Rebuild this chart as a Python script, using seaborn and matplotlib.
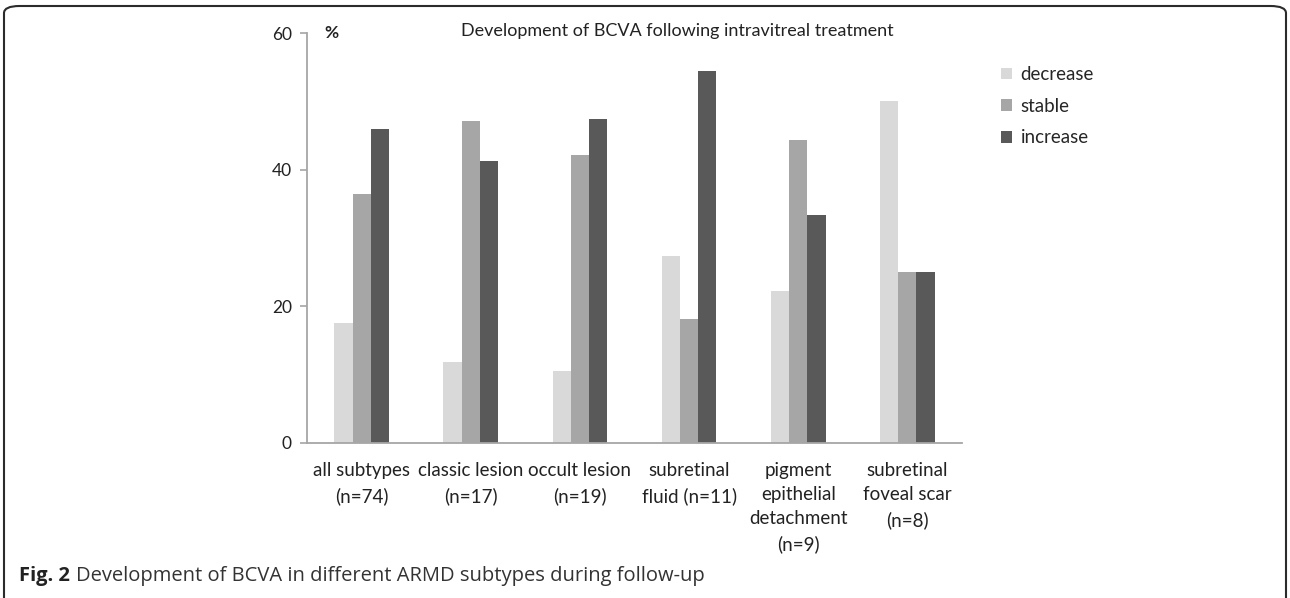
import matplotlib
matplotlib.use("Agg")
import matplotlib.pyplot as plt
from matplotlib.patches import FancyBboxPatch, Patch
import seaborn as sns
import pandas as pd

categories = [
    "all subtypes\n(n=74)",
    "classic lesion\n(n=17)",
    "occult lesion\n(n=19)",
    "subretinal\nfluid (n=11)",
    "pigment\nepithelial\ndetachment\n(n=9)",
    "subretinal\nfoveal scar\n(n=8)",
]
series = ["decrease", "stable", "increase"]
decrease = [17.6, 11.8, 10.5, 27.3, 22.2, 50.0]
stable = [36.5, 47.1, 42.1, 18.2, 44.4, 25.0]
increase = [45.9, 41.2, 47.4, 54.5, 33.3, 25.0]
yticks = [0, 20, 40, 60]

colors = ["#d9d9d9", "#a6a6a6", "#595959"]

sns.set_theme(style="white")
plt.rcParams["font.family"] = ["Lato", "DejaVu Sans"]

rows = []
for cat, d, s, i in zip(categories, decrease, stable, increase):
    rows.append((cat, "decrease", d))
    rows.append((cat, "stable", s))
    rows.append((cat, "increase", i))
df = pd.DataFrame(rows, columns=["subtype", "change", "percent"])

fig = plt.figure(figsize=(12.9, 5.98), dpi=100)
ax = fig.add_axes([0.238, 0.2592, 0.5077, 0.6856])

sns.barplot(data=df, x="subtype", y="percent", hue="change",
            hue_order=series, order=categories, palette=colors,
            width=0.5, saturation=1, ax=ax, legend=False,
            edgecolor="none", linewidth=0)

ax.set_xlim(-0.5, len(categories) - 0.5)
ax.set_ylim(0, 60)
ax.set_yticks(yticks)
ax.set_xlabel("")
ax.set_ylabel("")
for side in ["top", "right"]:
    ax.spines[side].set_visible(False)
for side in ["left", "bottom"]:
    ax.spines[side].set_color("#a6a6a6")
    ax.spines[side].set_linewidth(1.3)
ax.tick_params(axis="y", which="major", left=True, length=5, width=1.2,
               color="#a6a6a6", labelsize=12.5, labelcolor="#222222", pad=6)
ax.tick_params(axis="x", bottom=False, labelsize=13.5, labelcolor="#222222", pad=8)
for lbl in ax.get_xticklabels():
    lbl.set_linespacing(1.5)
    lbl.set_verticalalignment("top")

ax.text(0.037, 1.0, "%", transform=ax.transAxes, fontsize=12.5,
        fontweight="bold", ha="center", va="center", color="#222222")
fig.text(0.525, 0.948, "Development of BCVA following intravitreal treatment",
         fontsize=13, ha="center", va="center", color="#222222")

handles = [Patch(facecolor=c, edgecolor="none", label=s) for c, s in zip(colors, series)]
fig.legend(handles=handles, loc="upper left", bbox_to_anchor=(0.770, 0.902),
           frameon=False, fontsize=13.5, handlelength=0.6, handleheight=0.6,
           handletextpad=0.45, labelspacing=0.78, borderaxespad=0)

border = FancyBboxPatch((4 / 1290, -10 / 598), 1282 / 1290, 602 / 598,
                        boxstyle="round,pad=0,rounding_size=0.012",
                        transform=fig.transFigure, fill=False,
                        edgecolor="#2b2b2b", linewidth=1.5, clip_on=False)
fig.patches.append(border)

cap_font = ["Open Sans", "DejaVu Sans"]
t1 = fig.text(19 / 1290, 1 - 576 / 598, "Fig. 2", fontsize=14.5, fontweight="bold",
              family=cap_font, va="center", ha="left", color="#222222")
fig.canvas.draw()
bb = t1.get_window_extent()
fig.text((bb.x1 + 6) / 1290, 1 - 576 / 598,
         "Development of BCVA in different ARMD subtypes during follow-up",
         fontsize=14.5, family=cap_font, va="center", ha="left", color="#333333")

fig.savefig("out.png", dpi=100)
